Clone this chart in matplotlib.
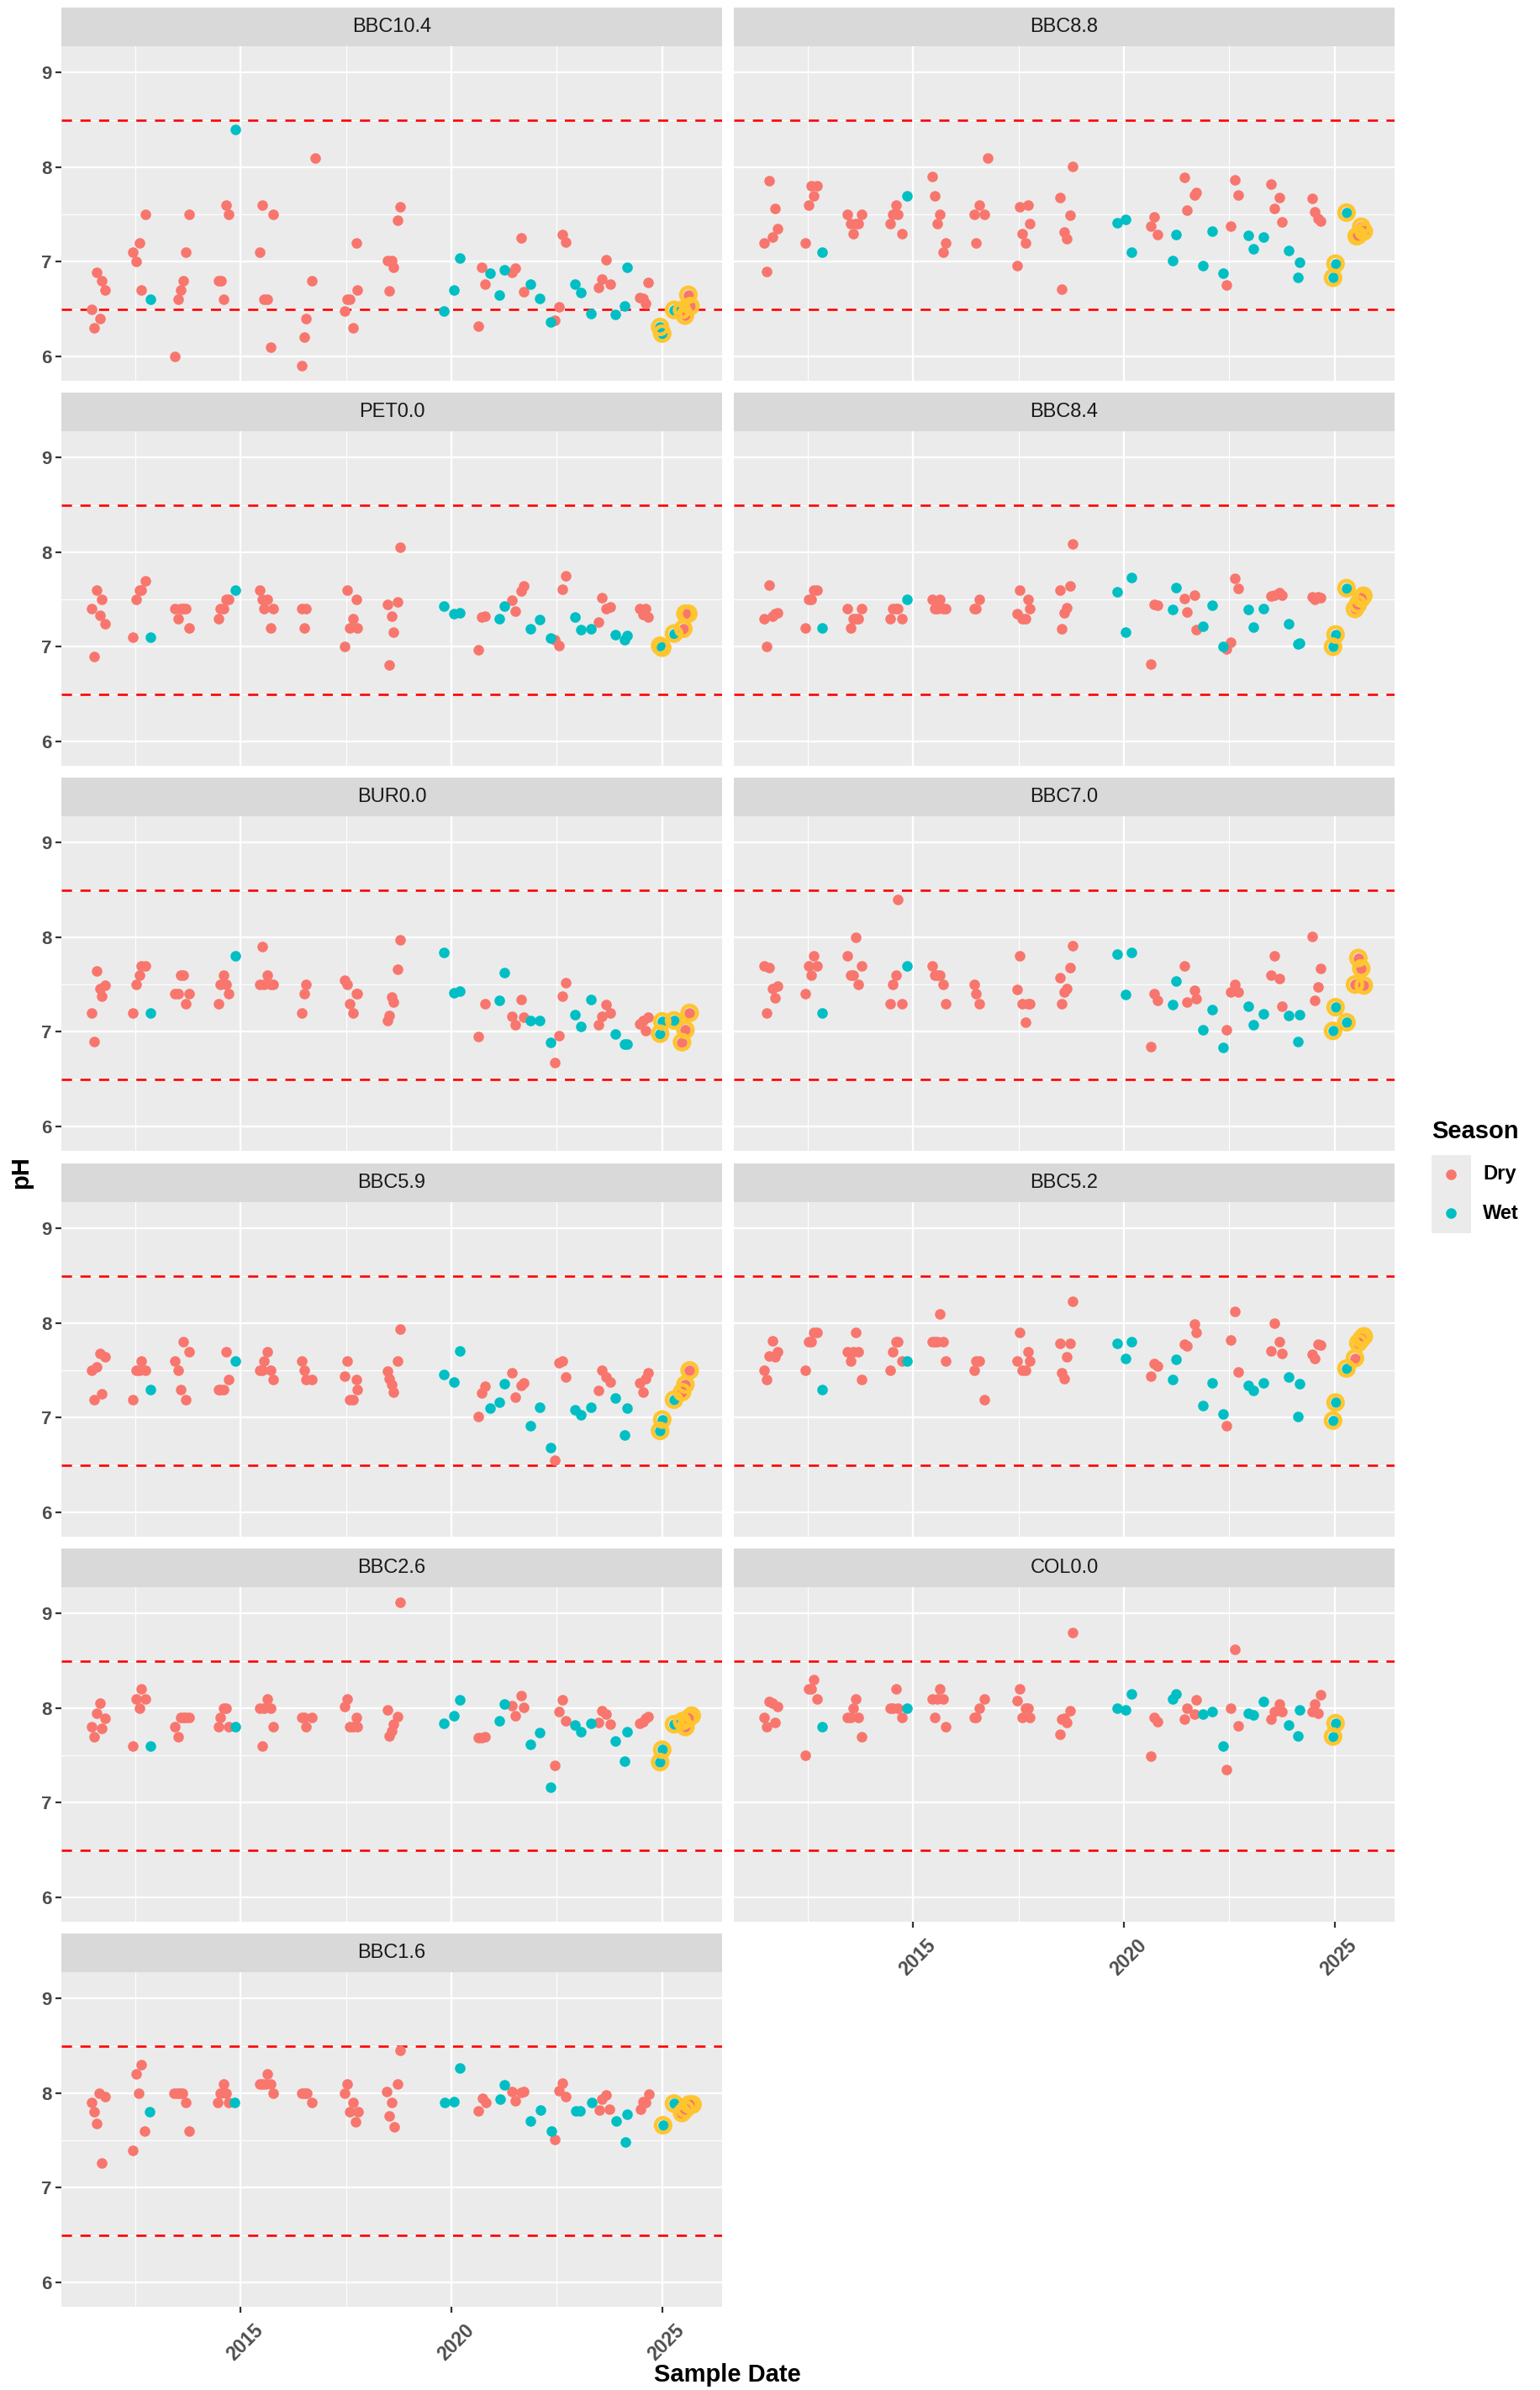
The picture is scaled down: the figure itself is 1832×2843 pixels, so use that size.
import matplotlib
matplotlib.use("Agg")
import matplotlib.pyplot as plt
import matplotlib.transforms as mtransforms
from matplotlib.patches import Rectangle

plt.rcParams['font.family'] = ['Liberation Sans', 'DejaVu Sans']

# ---------------------------------------------------------------------------
# Data: (decimal sample date, pH, season)  D = Dry, W = Wet
# ---------------------------------------------------------------------------
SITES = ["BBC10.4", "BBC8.8", "PET0.0", "BBC8.4", "BUR0.0", "BBC7.0",
         "BBC5.9", "BBC5.2", "BBC2.6", "COL0.0", "BBC1.6"]

SEASON_NAMES = {"D": "Dry", "W": "Wet"}
SEASON_COLORS = {"Dry": "#F8766D", "Wet": "#00BFC4"}
HIGHLIGHT_COLOR = "#FFC52E"
HIGHLIGHT_FROM = 2024.9          # most recent samples get a ring
LOWER_LIMIT, UPPER_LIMIT = 6.5, 8.5

Y_TICKS = [6, 7, 8, 9]
Y_MINOR = [6.5, 7.5, 8.5]
X_TICKS = [2015, 2020, 2025]
X_TICK_LABELS = ["2015", "2020", "2025"]
X_MINOR = [2012.5, 2017.5, 2022.5]

BBC10_4 = [
    (2011.47, 6.50, 'D'), (2011.52, 6.30, 'D'), (2011.58, 6.89, 'D'), (2011.66, 6.40, 'D'), (2011.71, 6.80, 'D'), (2011.79, 6.70, 'D'),
    (2012.45, 7.10, 'D'), (2012.53, 7.00, 'D'), (2012.60, 7.20, 'D'), (2012.65, 6.70, 'D'), (2012.74, 7.50, 'D'), (2012.86, 6.60, 'W'),
    (2013.45, 6.00, 'D'), (2013.52, 6.60, 'D'), (2013.58, 6.70, 'D'), (2013.64, 6.80, 'D'), (2013.71, 7.10, 'D'), (2013.79, 7.50, 'D'),
    (2014.47, 6.80, 'D'), (2014.53, 6.80, 'D'), (2014.59, 6.60, 'D'), (2014.65, 7.60, 'D'), (2014.72, 7.50, 'D'), (2014.87, 8.40, 'W'),
    (2015.45, 7.10, 'D'), (2015.51, 7.60, 'D'), (2015.55, 6.60, 'D'), (2015.64, 6.60, 'D'), (2015.72, 6.10, 'D'), (2015.78, 7.50, 'D'),
    (2016.46, 5.90, 'D'), (2016.51, 6.20, 'D'), (2016.56, 6.40, 'D'), (2016.70, 6.80, 'D'), (2016.77, 8.10, 'D'),
    (2017.46, 6.48, 'D'), (2017.52, 6.60, 'D'), (2017.59, 6.60, 'D'), (2017.66, 6.30, 'D'), (2017.74, 7.20, 'D'), (2017.77, 6.70, 'D'),
    (2018.48, 7.01, 'D'), (2018.53, 6.69, 'D'), (2018.58, 7.01, 'D'), (2018.63, 6.94, 'D'), (2018.73, 7.44, 'D'), (2018.79, 7.58, 'D'),
    (2019.83, 6.48, 'W'), (2020.06, 6.70, 'W'), (2020.19, 7.04, 'W'),
    (2020.63, 6.32, 'D'), (2020.72, 6.94, 'D'), (2020.79, 6.76, 'D'), (2020.92, 6.88, 'W'),
    (2021.14, 6.65, 'W'), (2021.25, 6.91, 'W'), (2021.43, 6.89, 'D'), (2021.51, 6.93, 'D'), (2021.66, 7.25, 'D'), (2021.71, 6.68, 'D'),
    (2021.87, 6.76, 'W'), (2022.10, 6.61, 'W'), (2022.36, 6.36, 'W'), (2022.45, 6.38, 'D'), (2022.55, 6.52, 'D'), (2022.63, 7.29, 'D'), (2022.72, 7.21, 'D'),
    (2022.94, 6.76, 'W'), (2023.07, 6.67, 'W'), (2023.30, 6.45, 'W'), (2023.49, 6.73, 'D'), (2023.56, 6.82, 'D'), (2023.67, 7.02, 'D'), (2023.76, 6.76, 'D'),
    (2023.89, 6.44, 'W'), (2024.10, 6.53, 'W'), (2024.16, 6.94, 'W'), (2024.46, 6.62, 'D'), (2024.54, 6.61, 'D'), (2024.61, 6.56, 'D'), (2024.67, 6.78, 'D'),
    (2024.95, 6.31, 'W'), (2025.00, 6.24, 'W'), (2025.28, 6.49, 'W'), (2025.47, 6.49, 'D'), (2025.54, 6.43, 'D'), (2025.62, 6.65, 'D'), (2025.67, 6.53, 'D'),
]

BBC8_8 = [
    (2011.46, 7.20, 'D'), (2011.52, 6.90, 'D'), (2011.58, 7.86, 'D'), (2011.66, 7.26, 'D'), (2011.72, 7.56, 'D'), (2011.79, 7.35, 'D'),
    (2012.44, 7.20, 'D'), (2012.52, 7.60, 'D'), (2012.59, 7.80, 'D'), (2012.65, 7.70, 'D'), (2012.72, 7.80, 'D'), (2012.85, 7.10, 'W'),
    (2013.45, 7.50, 'D'), (2013.52, 7.40, 'D'), (2013.58, 7.30, 'D'), (2013.64, 7.40, 'D'), (2013.71, 7.40, 'D'), (2013.78, 7.50, 'D'),
    (2014.46, 7.40, 'D'), (2014.52, 7.50, 'D'), (2014.59, 7.60, 'D'), (2014.64, 7.50, 'D'), (2014.73, 7.30, 'D'), (2014.86, 7.70, 'W'),
    (2015.45, 7.90, 'D'), (2015.51, 7.70, 'D'), (2015.57, 7.40, 'D'), (2015.64, 7.50, 'D'), (2015.72, 7.10, 'D'), (2015.78, 7.20, 'D'),
    (2016.46, 7.50, 'D'), (2016.50, 7.20, 'D'), (2016.57, 7.60, 'D'), (2016.70, 7.50, 'D'), (2016.78, 8.10, 'D'),
    (2017.46, 6.96, 'D'), (2017.52, 7.58, 'D'), (2017.58, 7.30, 'D'), (2017.66, 7.20, 'D'), (2017.73, 7.60, 'D'), (2017.77, 7.40, 'D'),
    (2018.48, 7.68, 'D'), (2018.53, 6.71, 'D'), (2018.58, 7.31, 'D'), (2018.64, 7.24, 'D'), (2018.73, 7.49, 'D'), (2018.78, 8.01, 'D'),
    (2019.84, 7.41, 'W'), (2020.05, 7.45, 'W'), (2020.18, 7.10, 'W'),
    (2020.63, 7.38, 'D'), (2020.72, 7.47, 'D'), (2020.80, 7.29, 'D'),
    (2021.15, 7.01, 'W'), (2021.24, 7.29, 'W'), (2021.43, 7.89, 'D'), (2021.50, 7.55, 'D'), (2021.67, 7.71, 'D'), (2021.71, 7.73, 'D'),
    (2021.87, 6.96, 'W'), (2022.10, 7.32, 'W'), (2022.36, 6.88, 'W'), (2022.44, 6.75, 'D'), (2022.54, 7.38, 'D'), (2022.64, 7.87, 'D'), (2022.71, 7.71, 'D'),
    (2022.95, 7.28, 'W'), (2023.07, 7.14, 'W'), (2023.31, 7.26, 'W'), (2023.48, 7.82, 'D'), (2023.56, 7.56, 'D'), (2023.68, 7.68, 'D'), (2023.75, 7.42, 'D'),
    (2023.90, 7.12, 'W'), (2024.12, 6.83, 'W'), (2024.16, 6.99, 'W'), (2024.47, 7.67, 'D'), (2024.53, 7.53, 'D'), (2024.61, 7.46, 'D'), (2024.66, 7.43, 'D'),
    (2024.96, 6.83, 'W'), (2025.02, 6.98, 'W'), (2025.28, 7.52, 'W'), (2025.52, 7.27, 'D'), (2025.56, 7.28, 'D'), (2025.63, 7.37, 'D'), (2025.69, 7.32, 'D'),
]

PET0_0 = [
    (2011.47, 7.40, 'D'), (2011.52, 6.90, 'D'), (2011.58, 7.60, 'D'), (2011.66, 7.33, 'D'), (2011.71, 7.50, 'D'), (2011.79, 7.24, 'D'),
    (2012.45, 7.10, 'D'), (2012.53, 7.50, 'D'), (2012.60, 7.60, 'D'), (2012.65, 7.60, 'D'), (2012.74, 7.70, 'D'), (2012.86, 7.10, 'W'),
    (2013.45, 7.40, 'D'), (2013.52, 7.30, 'D'), (2013.58, 7.40, 'D'), (2013.64, 7.40, 'D'), (2013.71, 7.40, 'D'), (2013.79, 7.20, 'D'),
    (2014.47, 7.30, 'D'), (2014.52, 7.40, 'D'), (2014.59, 7.40, 'D'), (2014.65, 7.50, 'D'), (2014.72, 7.50, 'D'), (2014.87, 7.60, 'W'),
    (2015.45, 7.60, 'D'), (2015.51, 7.50, 'D'), (2015.56, 7.40, 'D'), (2015.64, 7.50, 'D'), (2015.72, 7.20, 'D'), (2015.78, 7.40, 'D'),
    (2016.46, 7.40, 'D'), (2016.51, 7.20, 'D'), (2016.56, 7.40, 'D'),
    (2017.46, 7.00, 'D'), (2017.52, 7.60, 'D'), (2017.59, 7.20, 'D'), (2017.66, 7.30, 'D'), (2017.74, 7.50, 'D'), (2017.77, 7.20, 'D'),
    (2018.48, 7.45, 'D'), (2018.53, 6.81, 'D'), (2018.58, 7.32, 'D'), (2018.63, 7.15, 'D'), (2018.73, 7.47, 'D'), (2018.79, 8.05, 'D'),
    (2019.83, 7.43, 'W'), (2020.06, 7.35, 'W'), (2020.19, 7.36, 'W'),
    (2020.63, 6.97, 'D'), (2020.72, 7.31, 'D'), (2020.79, 7.32, 'D'),
    (2021.14, 7.30, 'W'), (2021.25, 7.43, 'W'), (2021.43, 7.49, 'D'), (2021.51, 7.38, 'D'), (2021.66, 7.59, 'D'), (2021.71, 7.64, 'D'),
    (2021.87, 7.19, 'W'), (2022.10, 7.29, 'W'), (2022.36, 7.09, 'W'), (2022.45, 7.07, 'D'), (2022.55, 7.01, 'D'), (2022.63, 7.61, 'D'), (2022.72, 7.75, 'D'),
    (2022.94, 7.31, 'W'), (2023.07, 7.18, 'W'), (2023.30, 7.19, 'W'), (2023.49, 7.26, 'D'), (2023.56, 7.52, 'D'), (2023.67, 7.40, 'D'), (2023.76, 7.42, 'D'),
    (2023.89, 7.13, 'W'), (2024.10, 7.07, 'W'), (2024.16, 7.12, 'W'), (2024.46, 7.40, 'D'), (2024.54, 7.34, 'D'), (2024.61, 7.40, 'D'), (2024.67, 7.31, 'D'),
    (2024.95, 7.01, 'W'), (2025.00, 6.99, 'W'), (2025.28, 7.14, 'W'), (2025.50, 7.19, 'D'), (2025.55, 7.35, 'D'), (2025.62, 7.35, 'D'),
]

BBC8_4 = [
    (2011.46, 7.30, 'D'), (2011.52, 7.00, 'D'), (2011.58, 7.65, 'D'), (2011.66, 7.32, 'D'), (2011.72, 7.35, 'D'), (2011.79, 7.36, 'D'),
    (2012.44, 7.20, 'D'), (2012.52, 7.50, 'D'), (2012.59, 7.50, 'D'), (2012.65, 7.60, 'D'), (2012.72, 7.60, 'D'), (2012.85, 7.20, 'W'),
    (2013.45, 7.40, 'D'), (2013.52, 7.20, 'D'), (2013.58, 7.30, 'D'), (2013.64, 7.30, 'D'), (2013.71, 7.30, 'D'), (2013.78, 7.40, 'D'),
    (2014.46, 7.30, 'D'), (2014.52, 7.40, 'D'), (2014.59, 7.40, 'D'), (2014.64, 7.40, 'D'), (2014.73, 7.30, 'D'), (2014.86, 7.50, 'W'),
    (2015.45, 7.50, 'D'), (2015.51, 7.40, 'D'), (2015.57, 7.40, 'D'), (2015.64, 7.50, 'D'), (2015.72, 7.40, 'D'), (2015.78, 7.40, 'D'),
    (2016.46, 7.40, 'D'), (2016.50, 7.40, 'D'), (2016.57, 7.50, 'D'),
    (2017.46, 7.35, 'D'), (2017.52, 7.60, 'D'), (2017.58, 7.30, 'D'), (2017.66, 7.30, 'D'), (2017.73, 7.50, 'D'), (2017.77, 7.40, 'D'),
    (2018.48, 7.60, 'D'), (2018.53, 7.19, 'D'), (2018.58, 7.36, 'D'), (2018.64, 7.41, 'D'), (2018.73, 7.64, 'D'), (2018.78, 8.09, 'D'),
    (2019.84, 7.58, 'W'), (2020.05, 7.15, 'W'), (2020.18, 7.73, 'W'),
    (2020.63, 6.82, 'D'), (2020.72, 7.45, 'D'), (2020.80, 7.44, 'D'),
    (2021.15, 7.39, 'W'), (2021.24, 7.63, 'W'), (2021.43, 7.51, 'D'), (2021.50, 7.37, 'D'), (2021.67, 7.55, 'D'), (2021.71, 7.18, 'D'),
    (2021.87, 7.22, 'W'), (2022.10, 7.44, 'W'), (2022.36, 7.00, 'W'), (2022.44, 6.98, 'D'), (2022.54, 7.05, 'D'), (2022.64, 7.72, 'D'), (2022.71, 7.62, 'D'),
    (2022.95, 7.39, 'W'), (2023.07, 7.21, 'W'), (2023.31, 7.40, 'W'), (2023.48, 7.54, 'D'), (2023.56, 7.55, 'D'), (2023.68, 7.57, 'D'), (2023.75, 7.55, 'D'),
    (2023.90, 7.24, 'W'), (2024.12, 7.03, 'W'), (2024.16, 7.04, 'W'), (2024.47, 7.53, 'D'), (2024.53, 7.50, 'D'), (2024.61, 7.53, 'D'), (2024.66, 7.52, 'D'),
    (2024.96, 7.00, 'W'), (2025.02, 7.13, 'W'), (2025.28, 7.62, 'W'), (2025.48, 7.40, 'D'), (2025.55, 7.45, 'D'), (2025.63, 7.51, 'D'), (2025.68, 7.54, 'D'),
]

BUR0_0 = [
    (2011.47, 7.20, 'D'), (2011.52, 6.90, 'D'), (2011.58, 7.64, 'D'), (2011.66, 7.46, 'D'), (2011.71, 7.38, 'D'), (2011.79, 7.49, 'D'),
    (2012.45, 7.20, 'D'), (2012.53, 7.50, 'D'), (2012.60, 7.60, 'D'), (2012.65, 7.70, 'D'), (2012.74, 7.70, 'D'), (2012.86, 7.20, 'W'),
    (2013.45, 7.40, 'D'), (2013.52, 7.40, 'D'), (2013.58, 7.60, 'D'), (2013.64, 7.60, 'D'), (2013.71, 7.30, 'D'), (2013.79, 7.40, 'D'),
    (2014.47, 7.30, 'D'), (2014.52, 7.50, 'D'), (2014.59, 7.60, 'D'), (2014.65, 7.50, 'D'), (2014.72, 7.40, 'D'), (2014.87, 7.80, 'W'),
    (2015.45, 7.50, 'D'), (2015.51, 7.90, 'D'), (2015.56, 7.50, 'D'), (2015.64, 7.60, 'D'), (2015.72, 7.50, 'D'), (2015.78, 7.50, 'D'),
    (2016.46, 7.20, 'D'), (2016.51, 7.40, 'D'), (2016.56, 7.50, 'D'),
    (2017.46, 7.55, 'D'), (2017.52, 7.50, 'D'), (2017.59, 7.30, 'D'), (2017.66, 7.20, 'D'), (2017.74, 7.40, 'D'), (2017.77, 7.40, 'D'),
    (2018.48, 7.12, 'D'), (2018.53, 7.17, 'D'), (2018.58, 7.37, 'D'), (2018.63, 7.31, 'D'), (2018.73, 7.66, 'D'), (2018.79, 7.97, 'D'),
    (2019.83, 7.84, 'W'), (2020.06, 7.41, 'W'), (2020.19, 7.43, 'W'),
    (2020.63, 6.95, 'D'), (2020.79, 7.30, 'D'),
    (2021.14, 7.33, 'W'), (2021.25, 7.63, 'W'), (2021.43, 7.16, 'D'), (2021.51, 7.07, 'D'), (2021.66, 7.34, 'D'), (2021.71, 7.15, 'D'),
    (2021.87, 7.12, 'W'), (2022.10, 7.12, 'W'), (2022.36, 6.89, 'W'), (2022.45, 6.67, 'D'), (2022.55, 6.96, 'D'), (2022.63, 7.38, 'D'), (2022.72, 7.52, 'D'),
    (2022.94, 7.18, 'W'), (2023.07, 7.06, 'W'), (2023.30, 7.34, 'W'), (2023.49, 7.07, 'D'), (2023.56, 7.16, 'D'), (2023.67, 7.29, 'D'), (2023.76, 7.20, 'D'),
    (2023.89, 6.98, 'W'), (2024.10, 6.87, 'W'), (2024.16, 6.87, 'W'), (2024.46, 7.08, 'D'), (2024.54, 7.12, 'D'), (2024.61, 7.01, 'D'), (2024.67, 7.15, 'D'),
    (2024.95, 6.98, 'W'), (2025.00, 7.11, 'W'), (2025.28, 7.12, 'W'), (2025.47, 6.89, 'D'), (2025.55, 7.02, 'D'), (2025.65, 7.20, 'D'),
]

BBC7_0 = [
    (2011.46, 7.70, 'D'), (2011.52, 7.20, 'D'), (2011.58, 7.68, 'D'), (2011.66, 7.46, 'D'), (2011.72, 7.36, 'D'), (2011.79, 7.48, 'D'),
    (2012.44, 7.40, 'D'), (2012.52, 7.70, 'D'), (2012.59, 7.60, 'D'), (2012.65, 7.80, 'D'), (2012.72, 7.70, 'D'), (2012.85, 7.20, 'W'),
    (2013.45, 7.80, 'D'), (2013.52, 7.60, 'D'), (2013.58, 7.60, 'D'), (2013.64, 8.00, 'D'), (2013.71, 7.50, 'D'), (2013.78, 7.70, 'D'),
    (2014.46, 7.30, 'D'), (2014.52, 7.50, 'D'), (2014.59, 7.60, 'D'), (2014.64, 8.40, 'D'), (2014.73, 7.30, 'D'), (2014.86, 7.70, 'W'),
    (2015.45, 7.70, 'D'), (2015.51, 7.60, 'D'), (2015.57, 7.60, 'D'), (2015.64, 7.60, 'D'), (2015.72, 7.50, 'D'), (2015.78, 7.30, 'D'),
    (2016.46, 7.50, 'D'), (2016.50, 7.40, 'D'), (2016.57, 7.30, 'D'),
    (2017.46, 7.45, 'D'), (2017.52, 7.80, 'D'), (2017.58, 7.30, 'D'), (2017.66, 7.10, 'D'), (2017.73, 7.30, 'D'), (2017.77, 7.30, 'D'),
    (2018.48, 7.57, 'D'), (2018.53, 7.30, 'D'), (2018.58, 7.42, 'D'), (2018.64, 7.46, 'D'), (2018.73, 7.68, 'D'), (2018.78, 7.91, 'D'),
    (2019.84, 7.82, 'W'), (2020.05, 7.39, 'W'), (2020.18, 7.84, 'W'),
    (2020.63, 6.84, 'D'), (2020.72, 7.40, 'D'), (2020.80, 7.33, 'D'),
    (2021.15, 7.29, 'W'), (2021.24, 7.54, 'W'), (2021.43, 7.70, 'D'), (2021.50, 7.31, 'D'), (2021.67, 7.44, 'D'), (2021.71, 7.35, 'D'),
    (2021.87, 7.02, 'W'), (2022.10, 7.23, 'W'), (2022.36, 6.83, 'W'), (2022.44, 7.02, 'D'), (2022.54, 7.42, 'D'), (2022.64, 7.50, 'D'), (2022.71, 7.42, 'D'),
    (2022.95, 7.27, 'W'), (2023.07, 7.07, 'W'), (2023.31, 7.19, 'W'), (2023.48, 7.60, 'D'), (2023.56, 7.80, 'D'), (2023.68, 7.56, 'D'), (2023.75, 7.27, 'D'),
    (2023.90, 7.17, 'W'), (2024.12, 6.90, 'W'), (2024.16, 7.18, 'W'), (2024.47, 8.01, 'D'), (2024.53, 7.33, 'D'), (2024.61, 7.47, 'D'), (2024.66, 7.67, 'D'),
    (2024.96, 7.01, 'W'), (2025.02, 7.26, 'W'), (2025.28, 7.10, 'W'), (2025.48, 7.50, 'D'), (2025.56, 7.78, 'D'), (2025.63, 7.67, 'D'), (2025.69, 7.49, 'D'),
]

BBC5_9 = [
    (2011.47, 7.50, 'D'), (2011.52, 7.19, 'D'), (2011.58, 7.54, 'D'), (2011.66, 7.68, 'D'), (2011.71, 7.25, 'D'), (2011.79, 7.64, 'D'),
    (2012.45, 7.19, 'D'), (2012.53, 7.50, 'D'), (2012.60, 7.50, 'D'), (2012.65, 7.60, 'D'), (2012.74, 7.50, 'D'), (2012.86, 7.30, 'W'),
    (2013.45, 7.60, 'D'), (2013.52, 7.50, 'D'), (2013.58, 7.30, 'D'), (2013.64, 7.80, 'D'), (2013.71, 7.19, 'D'), (2013.79, 7.70, 'D'),
    (2014.47, 7.30, 'D'), (2014.52, 7.30, 'D'), (2014.59, 7.30, 'D'), (2014.65, 7.70, 'D'), (2014.72, 7.40, 'D'), (2014.87, 7.60, 'W'),
    (2015.45, 7.50, 'D'), (2015.51, 7.50, 'D'), (2015.56, 7.60, 'D'), (2015.64, 7.70, 'D'), (2015.72, 7.50, 'D'), (2015.78, 7.40, 'D'),
    (2016.46, 7.60, 'D'), (2016.51, 7.50, 'D'), (2016.56, 7.40, 'D'), (2016.70, 7.40, 'D'),
    (2017.46, 7.44, 'D'), (2017.52, 7.60, 'D'), (2017.59, 7.19, 'D'), (2017.66, 7.19, 'D'), (2017.74, 7.40, 'D'), (2017.77, 7.30, 'D'),
    (2018.48, 7.49, 'D'), (2018.53, 7.41, 'D'), (2018.58, 7.35, 'D'), (2018.63, 7.27, 'D'), (2018.73, 7.60, 'D'), (2018.79, 7.94, 'D'),
    (2019.83, 7.46, 'W'), (2020.06, 7.38, 'W'), (2020.19, 7.71, 'W'),
    (2020.63, 7.01, 'D'), (2020.72, 7.26, 'D'), (2020.79, 7.33, 'D'), (2020.92, 7.10, 'W'),
    (2021.14, 7.16, 'W'), (2021.25, 7.36, 'W'), (2021.43, 7.47, 'D'), (2021.51, 7.22, 'D'), (2021.66, 7.34, 'D'), (2021.71, 7.37, 'D'),
    (2021.87, 6.91, 'W'), (2022.10, 7.11, 'W'), (2022.36, 6.68, 'W'), (2022.45, 6.55, 'D'), (2022.55, 7.58, 'D'), (2022.63, 7.60, 'D'), (2022.72, 7.43, 'D'),
    (2022.94, 7.08, 'W'), (2023.07, 7.03, 'W'), (2023.30, 7.11, 'W'), (2023.49, 7.29, 'D'), (2023.56, 7.50, 'D'), (2023.67, 7.43, 'D'), (2023.76, 7.38, 'D'),
    (2023.89, 7.21, 'W'), (2024.10, 6.82, 'W'), (2024.16, 7.10, 'W'), (2024.46, 7.37, 'D'), (2024.54, 7.27, 'D'), (2024.61, 7.41, 'D'), (2024.67, 7.47, 'D'),
    (2024.95, 6.86, 'W'), (2025.00, 6.98, 'W'), (2025.28, 7.19, 'W'), (2025.47, 7.27, 'D'), (2025.55, 7.35, 'D'), (2025.65, 7.50, 'D'),
]

BBC5_2 = [
    (2011.46, 7.50, 'D'), (2011.52, 7.40, 'D'), (2011.58, 7.65, 'D'), (2011.66, 7.81, 'D'), (2011.72, 7.64, 'D'), (2011.79, 7.70, 'D'),
    (2012.44, 7.50, 'D'), (2012.52, 7.80, 'D'), (2012.59, 7.80, 'D'), (2012.65, 7.90, 'D'), (2012.72, 7.90, 'D'), (2012.85, 7.30, 'W'),
    (2013.45, 7.70, 'D'), (2013.52, 7.60, 'D'), (2013.58, 7.70, 'D'), (2013.64, 7.90, 'D'), (2013.71, 7.70, 'D'), (2013.78, 7.40, 'D'),
    (2014.46, 7.50, 'D'), (2014.52, 7.70, 'D'), (2014.59, 7.80, 'D'), (2014.64, 7.80, 'D'), (2014.73, 7.60, 'D'), (2014.86, 7.60, 'W'),
    (2015.45, 7.80, 'D'), (2015.51, 7.80, 'D'), (2015.57, 7.80, 'D'), (2015.64, 8.10, 'D'), (2015.72, 7.80, 'D'), (2015.78, 7.60, 'D'),
    (2016.46, 7.50, 'D'), (2016.50, 7.60, 'D'), (2016.57, 7.60, 'D'), (2016.70, 7.19, 'D'),
    (2017.46, 7.60, 'D'), (2017.52, 7.90, 'D'), (2017.58, 7.50, 'D'), (2017.66, 7.50, 'D'), (2017.73, 7.70, 'D'), (2017.77, 7.60, 'D'),
    (2018.48, 7.79, 'D'), (2018.53, 7.47, 'D'), (2018.58, 7.41, 'D'), (2018.64, 7.64, 'D'), (2018.73, 7.79, 'D'), (2018.78, 8.23, 'D'),
    (2019.84, 7.79, 'W'), (2020.05, 7.63, 'W'), (2020.18, 7.80, 'W'),
    (2020.63, 7.44, 'D'), (2020.72, 7.57, 'D'), (2020.80, 7.55, 'D'),
    (2021.15, 7.40, 'W'), (2021.24, 7.62, 'W'), (2021.43, 7.78, 'D'), (2021.50, 7.76, 'D'), (2021.67, 7.99, 'D'), (2021.71, 7.90, 'D'),
    (2021.87, 7.13, 'W'), (2022.10, 7.37, 'W'), (2022.36, 7.04, 'W'), (2022.44, 6.91, 'D'), (2022.54, 7.82, 'D'), (2022.64, 8.12, 'D'), (2022.71, 7.48, 'D'),
    (2022.95, 7.34, 'W'), (2023.07, 7.29, 'W'), (2023.31, 7.37, 'W'), (2023.48, 7.71, 'D'), (2023.56, 8.00, 'D'), (2023.68, 7.80, 'D'), (2023.75, 7.68, 'D'),
    (2023.90, 7.43, 'W'), (2024.12, 7.01, 'W'), (2024.16, 7.36, 'W'), (2024.47, 7.67, 'D'), (2024.53, 7.63, 'D'), (2024.61, 7.78, 'D'), (2024.66, 7.77, 'D'),
    (2024.96, 6.97, 'W'), (2025.02, 7.16, 'W'), (2025.28, 7.52, 'W'), (2025.48, 7.63, 'D'), (2025.56, 7.79, 'D'), (2025.63, 7.83, 'D'), (2025.69, 7.86, 'D'),
]

BBC2_6 = [
    (2011.47, 7.80, 'D'), (2011.52, 7.70, 'D'), (2011.58, 7.95, 'D'), (2011.66, 8.05, 'D'), (2011.71, 7.79, 'D'), (2011.79, 7.89, 'D'),
    (2012.45, 7.60, 'D'), (2012.53, 8.10, 'D'), (2012.60, 8.00, 'D'), (2012.65, 8.20, 'D'), (2012.74, 8.10, 'D'), (2012.86, 7.60, 'W'),
    (2013.45, 7.80, 'D'), (2013.52, 7.70, 'D'), (2013.58, 7.90, 'D'), (2013.64, 7.90, 'D'), (2013.71, 7.90, 'D'), (2013.79, 7.90, 'D'),
    (2014.47, 7.80, 'D'), (2014.52, 7.90, 'D'), (2014.59, 8.00, 'D'), (2014.65, 8.00, 'D'), (2014.72, 7.80, 'D'), (2014.87, 7.80, 'W'),
    (2015.45, 8.00, 'D'), (2015.51, 7.60, 'D'), (2015.56, 8.00, 'D'), (2015.64, 8.10, 'D'), (2015.72, 8.00, 'D'), (2015.78, 7.80, 'D'),
    (2016.46, 7.90, 'D'), (2016.51, 7.90, 'D'), (2016.56, 7.80, 'D'), (2016.70, 7.90, 'D'),
    (2017.46, 8.02, 'D'), (2017.52, 8.10, 'D'), (2017.59, 7.80, 'D'), (2017.66, 7.80, 'D'), (2017.74, 7.90, 'D'), (2017.77, 7.80, 'D'),
    (2018.48, 7.98, 'D'), (2018.53, 7.71, 'D'), (2018.58, 7.76, 'D'), (2018.63, 7.83, 'D'), (2018.73, 7.91, 'D'), (2018.79, 9.12, 'D'),
    (2019.83, 7.84, 'W'), (2020.06, 7.92, 'W'), (2020.19, 8.09, 'W'),
    (2020.63, 7.69, 'D'), (2020.72, 7.69, 'D'), (2020.79, 7.70, 'D'),
    (2021.14, 7.87, 'W'), (2021.25, 8.04, 'W'), (2021.43, 8.03, 'D'), (2021.51, 7.92, 'D'), (2021.66, 8.13, 'D'), (2021.71, 8.01, 'D'),
    (2021.87, 7.62, 'W'), (2022.10, 7.74, 'W'), (2022.36, 7.16, 'W'), (2022.45, 7.39, 'D'), (2022.55, 7.96, 'D'), (2022.63, 8.09, 'D'), (2022.72, 7.87, 'D'),
    (2022.94, 7.82, 'W'), (2023.07, 7.75, 'W'), (2023.30, 7.84, 'W'), (2023.49, 7.85, 'D'), (2023.56, 7.97, 'D'), (2023.67, 7.94, 'D'), (2023.76, 7.83, 'D'),
    (2023.89, 7.65, 'W'), (2024.10, 7.44, 'W'), (2024.16, 7.75, 'W'), (2024.46, 7.84, 'D'), (2024.54, 7.86, 'D'), (2024.61, 7.89, 'D'), (2024.67, 7.91, 'D'),
    (2024.95, 7.43, 'W'), (2025.00, 7.56, 'W'), (2025.28, 7.83, 'W'), (2025.47, 7.86, 'D'), (2025.55, 7.80, 'D'), (2025.62, 7.89, 'D'), (2025.70, 7.92, 'D'),
]

COL0_0 = [
    (2011.46, 7.90, 'D'), (2011.52, 7.80, 'D'), (2011.58, 8.07, 'D'), (2011.66, 8.05, 'D'), (2011.72, 7.85, 'D'), (2011.79, 8.02, 'D'),
    (2012.44, 7.50, 'D'), (2012.52, 8.20, 'D'), (2012.59, 8.20, 'D'), (2012.65, 8.30, 'D'), (2012.72, 8.10, 'D'), (2012.85, 7.80, 'W'),
    (2013.45, 7.90, 'D'), (2013.52, 7.90, 'D'), (2013.58, 8.00, 'D'), (2013.64, 8.10, 'D'), (2013.71, 7.90, 'D'), (2013.78, 7.70, 'D'),
    (2014.46, 8.00, 'D'), (2014.52, 8.00, 'D'), (2014.59, 8.20, 'D'), (2014.64, 8.00, 'D'), (2014.73, 7.90, 'D'), (2014.86, 8.00, 'W'),
    (2015.45, 8.10, 'D'), (2015.51, 7.90, 'D'), (2015.57, 8.10, 'D'), (2015.64, 8.20, 'D'), (2015.72, 8.10, 'D'), (2015.78, 7.80, 'D'),
    (2016.46, 7.90, 'D'), (2016.50, 7.90, 'D'), (2016.57, 8.00, 'D'), (2016.70, 8.10, 'D'),
    (2017.46, 8.08, 'D'), (2017.52, 8.20, 'D'), (2017.58, 7.90, 'D'), (2017.66, 8.00, 'D'), (2017.73, 8.00, 'D'), (2017.77, 7.90, 'D'),
    (2018.48, 7.72, 'D'), (2018.53, 7.88, 'D'), (2018.58, 7.89, 'D'), (2018.64, 7.85, 'D'), (2018.73, 7.97, 'D'), (2018.78, 8.80, 'D'),
    (2019.84, 8.00, 'W'), (2020.05, 7.98, 'W'), (2020.18, 8.15, 'W'),
    (2020.63, 7.49, 'D'), (2020.72, 7.90, 'D'), (2020.80, 7.86, 'D'),
    (2021.15, 8.10, 'W'), (2021.24, 8.15, 'W'), (2021.43, 7.88, 'D'), (2021.50, 8.00, 'D'), (2021.67, 7.94, 'D'), (2021.71, 8.09, 'D'),
    (2021.87, 7.94, 'W'), (2022.10, 7.96, 'W'), (2022.36, 7.60, 'W'), (2022.44, 7.35, 'D'), (2022.54, 8.00, 'D'), (2022.64, 8.62, 'D'), (2022.71, 7.81, 'D'),
    (2022.95, 7.95, 'W'), (2023.07, 7.93, 'W'), (2023.31, 8.07, 'W'), (2023.48, 7.88, 'D'), (2023.56, 7.96, 'D'), (2023.68, 8.04, 'D'), (2023.75, 7.96, 'D'),
    (2023.90, 7.82, 'W'), (2024.12, 7.71, 'W'), (2024.16, 7.98, 'W'), (2024.47, 7.96, 'D'), (2024.53, 8.04, 'D'), (2024.61, 7.95, 'D'), (2024.66, 8.14, 'D'),
    (2024.96, 7.70, 'W'), (2025.02, 7.84, 'W'),
]

BBC1_6 = [
    (2011.46, 7.90, 'D'), (2011.52, 7.80, 'D'), (2011.58, 7.68, 'D'), (2011.65, 8.00, 'D'), (2011.71, 7.26, 'D'), (2011.79, 7.96, 'D'),
    (2012.44, 7.39, 'D'), (2012.52, 8.20, 'D'), (2012.59, 8.00, 'D'), (2012.65, 8.30, 'D'), (2012.73, 7.60, 'D'), (2012.84, 7.80, 'W'),
    (2013.42, 8.00, 'D'), (2013.50, 8.00, 'D'), (2013.56, 8.00, 'D'), (2013.63, 8.00, 'D'), (2013.71, 7.90, 'D'), (2013.78, 7.60, 'D'),
    (2014.46, 7.90, 'D'), (2014.52, 8.00, 'D'), (2014.59, 8.10, 'D'), (2014.66, 8.00, 'D'), (2014.71, 7.90, 'D'), (2014.86, 7.90, 'W'),
    (2015.45, 8.10, 'D'), (2015.52, 8.10, 'D'), (2015.59, 8.10, 'D'), (2015.64, 8.20, 'D'), (2015.71, 8.10, 'D'), (2015.77, 8.00, 'D'),
    (2016.45, 8.00, 'D'), (2016.52, 8.00, 'D'), (2016.58, 8.00, 'D'), (2016.70, 7.90, 'D'),
    (2017.46, 8.00, 'D'), (2017.52, 8.10, 'D'), (2017.59, 7.80, 'D'), (2017.67, 7.90, 'D'), (2017.73, 7.70, 'D'), (2017.78, 7.80, 'D'),
    (2018.47, 8.02, 'D'), (2018.53, 7.76, 'D'), (2018.58, 7.90, 'D'), (2018.64, 7.64, 'D'), (2018.73, 8.10, 'D'), (2018.78, 8.45, 'D'),
    (2019.85, 7.90, 'W'), (2020.07, 7.91, 'W'), (2020.20, 8.27, 'W'),
    (2020.64, 7.81, 'D'), (2020.73, 7.95, 'D'), (2020.81, 7.90, 'D'),
    (2021.16, 7.94, 'W'), (2021.25, 8.09, 'W'), (2021.44, 8.02, 'D'), (2021.52, 7.92, 'D'), (2021.65, 8.01, 'D'), (2021.71, 8.02, 'D'),
    (2021.88, 7.71, 'W'), (2022.12, 7.82, 'W'), (2022.37, 7.60, 'W'), (2022.46, 7.51, 'D'), (2022.56, 8.03, 'D'), (2022.64, 8.11, 'D'), (2022.72, 7.96, 'D'),
    (2022.95, 7.81, 'W'), (2023.06, 7.81, 'W'), (2023.32, 7.90, 'W'), (2023.50, 7.82, 'D'), (2023.57, 7.94, 'D'), (2023.67, 7.98, 'D'), (2023.75, 7.83, 'D'),
    (2023.91, 7.71, 'W'), (2024.12, 7.48, 'W'), (2024.17, 7.78, 'W'), (2024.48, 7.83, 'D'), (2024.54, 7.91, 'D'), (2024.61, 7.90, 'D'), (2024.68, 7.99, 'D'),
    (2025.02, 7.66, 'W'), (2025.28, 7.89, 'W'), (2025.47, 7.79, 'D'), (2025.55, 7.83, 'D'), (2025.64, 7.88, 'D'), (2025.72, 7.88, 'D'),
]

SITE_DATA = {
    "BBC10.4": BBC10_4, "BBC8.8": BBC8_8, "PET0.0": PET0_0, "BBC8.4": BBC8_4,
    "BUR0.0": BUR0_0, "BBC7.0": BBC7_0, "BBC5.9": BBC5_9, "BBC5.2": BBC5_2,
    "BBC2.6": BBC2_6, "COL0.0": COL0_0, "BBC1.6": BBC1_6,
}

# ---------------------------------------------------------------------------
# Layout (pixel geometry of the facet grid)
# ---------------------------------------------------------------------------
W, H, DPI = 1833, 2843, 100
NCOL = 2
COL_LEFT = [73, 873]
PANEL_W = 786
ROW_TOP = [9, 467, 925, 1384, 1842, 2300]     # top of strip
STRIP_H = 46
PANEL_H = 398
XLIM = (2010.75, 2026.42)
YLIM = (5.74, 9.28)

PANEL_BG = "#EBEBEB"
STRIP_BG = "#D9D9D9"
TICK_COLOR = "#333333"
TICK_LABEL_COLOR = "#4D4D4D"
DOT_SIZE = 82
RING_SIZE = 160


def px_to_fig(x, y):
    return x / W, 1 - y / H


fig = plt.figure(figsize=(W / DPI, H / DPI), dpi=DPI)
fig.patch.set_facecolor("white")

# shift for the rotated date labels (in pixels)
xlabel_shift = mtransforms.ScaledTranslation(15 / DPI, -5 / DPI, fig.dpi_scale_trans)

n = len(SITES)
last_in_col = {}
for i in range(n):
    last_in_col[i % NCOL] = i

for i, site in enumerate(SITES):
    row, col = divmod(i, NCOL)
    left = COL_LEFT[col]
    top = ROW_TOP[row] + STRIP_H
    bottom = top + PANEL_H
    ax = fig.add_axes([left / W, 1 - bottom / H, PANEL_W / W, PANEL_H / H])
    ax.set_facecolor(PANEL_BG)
    ax.set_xlim(*XLIM)
    ax.set_ylim(*YLIM)
    for sp in ax.spines.values():
        sp.set_visible(False)

    show_x = (i == last_in_col[col])
    show_y = (col == 0)

    ax.set_xticks(X_TICKS, labels=X_TICK_LABELS if show_x else [])
    ax.set_xticks(X_MINOR, minor=True)
    ax.set_yticks(Y_TICKS, labels=[str(v) for v in Y_TICKS] if show_y else [])
    ax.set_yticks(Y_MINOR, minor=True)
    ax.grid(which="major", color="white", linewidth=1.6)
    ax.grid(which="minor", color="white", linewidth=0.8)
    ax.set_axisbelow(True)
    ax.tick_params(which="minor", length=0)
    ax.tick_params(axis="x", which="major", length=5 if show_x else 0, width=1.6,
                   color=TICK_COLOR, pad=3)
    ax.tick_params(axis="y", which="major", length=5 if show_y else 0, width=1.6,
                   color=TICK_COLOR, pad=3)
    for lbl in ax.get_xticklabels():
        lbl.set_fontsize(16.5)
        lbl.set_fontweight("bold")
        lbl.set_color(TICK_LABEL_COLOR)
        lbl.set_rotation(45)
        lbl.set_ha("right")
        lbl.set_va("top")
        lbl.set_rotation_mode("anchor")
        lbl.set_transform(lbl.get_transform() + xlabel_shift)
    for lbl in ax.get_yticklabels():
        lbl.set_fontsize(16)
        lbl.set_fontweight("bold")
        lbl.set_color(TICK_LABEL_COLOR)

    # guideline limits
    for lim in (LOWER_LIMIT, UPPER_LIMIT):
        ax.axhline(lim, color="#FF0000", linewidth=1.9, linestyle=(0, (4.6, 3.8)), zorder=1.5)

    rows = SITE_DATA[site]
    for code in ("D", "W"):
        season = SEASON_NAMES[code]
        xs = [r[0] for r in rows if r[2] == code]
        ys = [r[1] for r in rows if r[2] == code]
        ax.scatter(xs, ys, s=DOT_SIZE, color=SEASON_COLORS[season],
                   linewidths=0, zorder=2)

    hx = [r[0] for r in rows if r[0] >= HIGHLIGHT_FROM]
    hy = [r[1] for r in rows if r[0] >= HIGHLIGHT_FROM]
    ax.scatter(hx, hy, s=RING_SIZE, facecolors="none", edgecolors=HIGHLIGHT_COLOR,
               linewidths=3.3, zorder=3)

    # facet strip
    strip_h_ax = STRIP_H / PANEL_H
    ax.add_patch(Rectangle((0, 1), 1, strip_h_ax, transform=ax.transAxes,
                           facecolor=STRIP_BG, edgecolor="none", clip_on=False))
    ax.text(0.5, 1 + strip_h_ax / 2, site, transform=ax.transAxes,
            ha="center", va="center", fontsize=17, color="#1A1A1A")

# axis titles
x, y = px_to_fig(25, 1395)
fig.text(x, y, "pH", rotation=90, ha="center", va="center",
         fontsize=21, fontweight="bold", color="black")
x, y = px_to_fig(865, 2825)
fig.text(x, y, "Sample Date", ha="center", va="center",
         fontsize=21, fontweight="bold", color="black")

# legend drawn in pixel space
leg = fig.add_axes([0, 0, 1, 1], facecolor="none")
leg.set_xlim(0, W)
leg.set_ylim(H, 0)
leg.axis("off")
leg.text(1703, 1346, "Season", ha="left", va="center", fontsize=21,
         fontweight="bold", color="black")
leg.add_patch(Rectangle((1703, 1374), 47, 93, facecolor=PANEL_BG, edgecolor="none"))
for k, season in enumerate(("Dry", "Wet")):
    yk = 1397 + 46 * k
    leg.scatter([1726.5], [yk], s=DOT_SIZE, color=SEASON_COLORS[season], linewidths=0)
    leg.text(1764, yk, season, ha="left", va="center", fontsize=17,
             fontweight="bold", color="black")

fig.savefig("out.png", dpi=DPI)
